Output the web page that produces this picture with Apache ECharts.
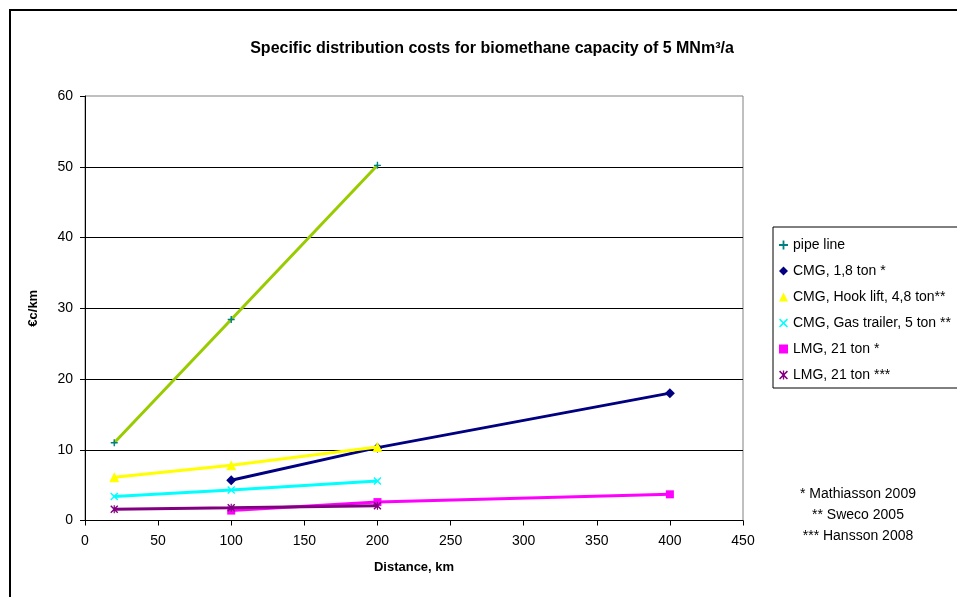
<!DOCTYPE html>
<html>
<head>
<meta charset="utf-8">
<script src="https://cdn.jsdelivr.net/npm/echarts@6/dist/echarts.min.js"></script>
<style>
  html, body { margin: 0; padding: 0; background: #fff; }
  #chart { width: 957px; height: 597px; }
</style>
</head>
<body>
<div id="chart"></div>
<script>
// Distance (km) and specific distribution cost (€c/km) per transport option
const seriesNames = [
  'pipe line',
  'CMG, 1,8 ton *',
  'CMG, Hook lift, 4,8 ton**',
  'CMG, Gas trailer, 5 ton **',
  'LMG, 21 ton *',
  'LMG, 21 ton ***'
];
const pipeLine      = [[20, 11.0], [100, 28.4], [200, 50.2]];
const cmg18         = [[100, 5.7], [200, 10.3], [400, 18.0]];
const cmgHookLift   = [[20, 6.1], [100, 7.8], [200, 10.4]];
const cmgGasTrailer = [[20, 3.4], [100, 4.3], [200, 5.6]];
const lmg21a        = [[100, 1.4], [200, 2.6], [400, 3.7]];
const lmg21b        = [[20, 1.6], [100, 1.8], [200, 2.1]];

const xTicks = { min: 0, max: 450, interval: 50 };
const yTicks = { min: 0, max: 60, interval: 10 };

const footnotes = ['* Mathiasson 2009', '** Sweco 2005', '*** Hansson 2008'];

// marker shapes
const PLUS = 'path://M3.2,0H4.8V3.2H8V4.8H4.8V8H3.2V4.8H0V3.2H3.2Z';
const CROSS = 'path://M0,1L1,0L4,3L7,0L8,1L5,4L8,7L7,8L4,5L1,8L0,7L3,4Z';
const STAR = 'path://M0,1L1,0L4,3L7,0L8,1L5,4L8,7L7,8L4,5L1,8L0,7L3,4Z M3.4,0H4.6V8H3.4Z';

const styles = [
  { line: '#99CC00', mark: '#008080', symbol: PLUS,      size: 7 },
  { line: '#000080', mark: '#000080', symbol: 'diamond', size: 10 },
  { line: '#FFFF00', mark: '#FFFF00', symbol: 'triangle', size: 10 },
  { line: '#00FFFF', mark: '#00FFFF', symbol: CROSS,     size: 8 },
  { line: '#FF00FF', mark: '#FF00FF', symbol: 'rect',    size: 8 },
  { line: '#800080', mark: '#800080', symbol: STAR,      size: 8 }
];
const seriesData = [pipeLine, cmg18, cmgHookLift, cmgGasTrailer, lmg21a, lmg21b];

const FONT = 'Liberation Sans, Arial, sans-serif';

const chart = echarts.init(document.getElementById('chart'), null, { renderer: 'canvas' });

chart.setOption({
  backgroundColor: '#fff',
  animation: false,
  textStyle: { fontFamily: FONT },
  title: [
    {
      text: 'Specific distribution costs for biomethane capacity of 5 MNm³/a',
      left: 487, top: 36, textAlign: 'center',
      textStyle: { fontFamily: FONT, fontSize: 16, fontWeight: 'bold', color: '#000' }
    },
    {
      text: footnotes.join('\n'),
      left: 853, top: 479, textAlign: 'center',
      textStyle: { fontFamily: FONT, fontSize: 14, fontWeight: 'normal', color: '#000', lineHeight: 21 }
    }
  ],
  legend: {
    orient: 'vertical',
    left: 773, top: 227,
    padding: [10, 40, 5, 6],
    itemGap: 10,
    itemWidth: 9, itemHeight: 9,
    backgroundColor: '#fff',
    borderColor: '#000', borderWidth: 1,
    textStyle: { fontFamily: FONT, fontSize: 14, color: '#000', lineHeight: 16 },
    selectedMode: false,
    data: seriesNames.map((n, i) => ({
      name: n,
      icon: styles[i].symbol,
      itemStyle: { color: styles[i].mark }
    }))
  },
  grid: {
    left: 85, top: 96, right: 214, bottom: 76.5,
    show: true, borderColor: '#808080', borderWidth: 1, backgroundColor: '#fff'
  },
  xAxis: {
    type: 'value',
    min: xTicks.min, max: xTicks.max, interval: xTicks.interval,
    name: 'Distance, km', nameLocation: 'middle', nameGap: 40,
    nameTextStyle: { fontFamily: FONT, fontSize: 13, fontWeight: 'bold', color: '#000' },
    axisLine: { show: true, onZero: false, lineStyle: { color: '#000', width: 1 } },
    axisTick: { show: true, inside: false, length: 5, lineStyle: { color: '#000' } },
    axisLabel: { margin: 14, fontFamily: FONT, fontSize: 14, color: '#000' },
    splitLine: { show: false }
  },
  yAxis: {
    type: 'value',
    min: yTicks.min, max: yTicks.max, interval: yTicks.interval,
    name: '€c/km', nameLocation: 'middle', nameGap: 45, nameRotate: 90,
    nameTextStyle: { fontFamily: FONT, fontSize: 13, fontWeight: 'bold', color: '#000' },
    axisLine: { show: true, lineStyle: { color: '#000', width: 1 } },
    axisTick: { show: true, inside: false, length: 5, lineStyle: { color: '#000' } },
    axisLabel: { margin: 12, fontFamily: FONT, fontSize: 14, color: '#000' },
    splitLine: { show: true, showMinLine: false, showMaxLine: false, lineStyle: { color: '#000', width: 1 } }
  },
  graphic: [
    {
      type: 'rect', silent: true, z: -10,
      shape: { x: 10, y: 10, width: 980, height: 620 },
      style: { fill: 'none', stroke: '#000', lineWidth: 2 }
    }
  ],
  series: seriesData.map((d, i) => ({
    name: seriesNames[i],
    type: 'line',
    data: d,
    symbol: styles[i].symbol,
    symbolSize: styles[i].size,
    showSymbol: true,
    lineStyle: { color: styles[i].line, width: 3 },
    itemStyle: { color: styles[i].mark },
    emphasis: { disabled: true },
    z: 2 + i
  }))
});
</script>
</body>
</html>
